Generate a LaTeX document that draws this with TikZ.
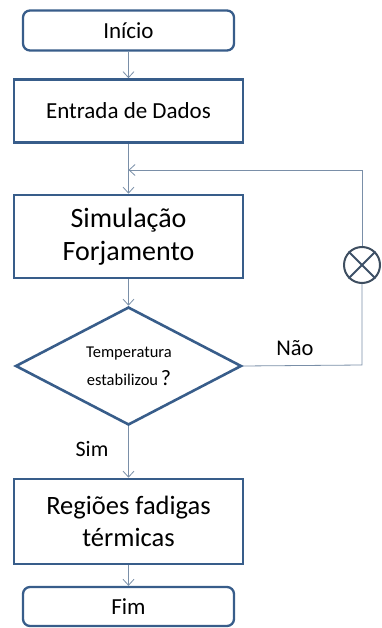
\documentclass[tikz,border=0pt]{standalone}
\usepackage{fontspec}
\setmainfont{Carlito}
\usetikzlibrary{arrows.meta,shapes.geometric}
\definecolor{bord}{HTML}{385D8A}
\definecolor{conn}{HTML}{7A8FA8}
\definecolor{circ}{HTML}{3E4E60}
\tikzset{
  boxstyle/.style={draw=bord,line width=2.6pt,fill=white,inner sep=0pt,align=center,text=black},
  termstyle/.style={boxstyle,rounded corners=7pt,line width=2.3pt},
  connstyle/.style={draw=conn,line width=0.8pt},
  arr/.style={connstyle,-{Straight Barb[length=6pt,width=11pt,line width=0.8pt]}},
  lbl/.style={text=black,inner sep=0pt}
}
\begin{document}
\begin{tikzpicture}[x=1pt,y=-1pt]
\useasboundingbox (0,0) rectangle (381,628);
\node[termstyle,minimum width=211pt,minimum height=40pt,font=\fontsize{23}{27}\selectfont] (ini) at (128.5,30.5) {Início};
\node[boxstyle,minimum width=229pt,minimum height=63pt,font=\fontsize{23}{27}\selectfont] (ent) at (128.5,111) {Entrada de Dados};
\node[boxstyle,minimum width=229pt,minimum height=83pt,font=\fontsize{28}{33}\selectfont] (sim) at (128.5,236.5) {Simulação\\Forjamento};
\node[diamond,draw=bord,line width=2.6pt,aspect=1.9,minimum width=226pt,minimum height=118pt,inner sep=0pt] (dec) at (128.5,366) {};
\node[lbl,font=\fontsize{16.5}{20}\selectfont] (t1) at (129,354) {Temperatura};
\node[lbl,font=\fontsize{16.5}{20}\selectfont,anchor=base] (t2) at (129,385) {estabilizou\,{\fontsize{22}{24}\selectfont ?}};
\node[boxstyle,minimum width=229pt,minimum height=85pt,font=\fontsize{26.5}{32}\selectfont] (reg) at (128.5,521.5) {Regiões fadigas\\térmicas};
\node[termstyle,minimum width=211pt,minimum height=39pt,font=\fontsize{23}{27}\selectfont] (fim) at (128.5,606.5) {Fim};
\node[circle,draw=circ,line width=2pt,minimum size=36pt,inner sep=0pt] (x) at (362,265) {};
\draw[draw=circ!80!bord,line width=2pt] (x.north east) -- (x.south west) (x.north west) -- (x.south east);
\coordinate (top) at (362,170);
\coordinate (join) at (128.5,170);
\coordinate (bot) at (362,365);
\node[lbl,font=\fontsize{22.5}{26}\selectfont] (nao) at (295,348) {Não};
\node[lbl,font=\fontsize{22}{26}\selectfont] (simlbl) at (92,449) {Sim};
\draw[arr] (ini.south) -- (ent.north);
\draw[arr] (ent.south) -- (sim.north);
\draw[arr] (x.north) -- (top) -- (join);
\draw[arr] (sim.south) -- (dec.north);
\draw[connstyle] (dec.east) -- (bot) -- (x.south);
\draw[arr] (dec.south) -- (reg.north);
\draw[arr] (reg.south) -- (fim.north);
\end{tikzpicture}
\end{document}
